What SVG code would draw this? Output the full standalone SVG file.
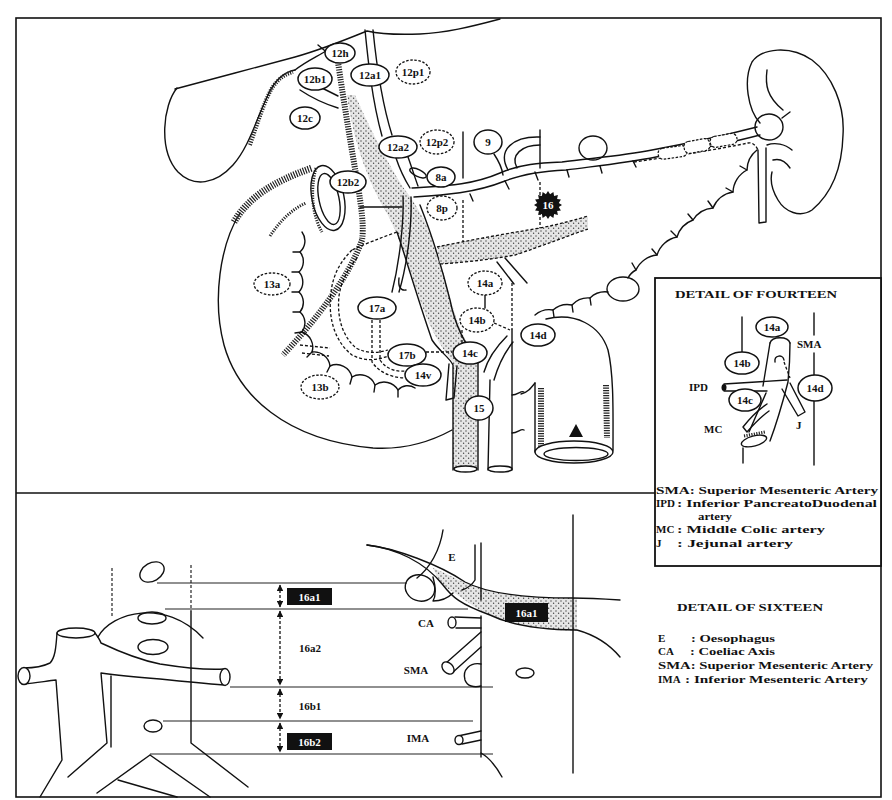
<svg xmlns="http://www.w3.org/2000/svg" width="892" height="800" viewBox="0 0 892 800">
<defs>
<style>
.k{fill:none;stroke:#111;stroke-width:1.4;stroke-linecap:round;stroke-linejoin:round}
.kt{fill:none;stroke:#222;stroke-width:1.1}
.d{fill:none;stroke:#111;stroke-width:1.3;stroke-dasharray:3 2}
.h{fill:none;stroke:#222;stroke-width:6;stroke-dasharray:1.2 1.3}
.st{fill:url(#stip);stroke:none}
.w{fill:#fff}
.n ellipse{fill:#fff;stroke:#111;stroke-width:1.5}
.nd ellipse{fill:#fff;stroke:#111;stroke-width:1.3;stroke-dasharray:2.5 1.6}
text{font-family:"Liberation Serif","Times New Roman",serif;font-weight:bold;fill:#111}
.lb{font-size:11px;text-anchor:middle}
.lg{font-size:11px}
.ti{font-size:11px}
.bx{fill:#111}
.wt{fill:#fff;font-size:11px;text-anchor:middle}
</style>
<pattern id="stip" width="5" height="5" patternUnits="userSpaceOnUse">
<rect width="5" height="5" fill="#e6e6e6"/>
<circle cx="1" cy="1" r="0.7" fill="#444"/>
<circle cx="3.6" cy="3.2" r="0.7" fill="#444"/>
</pattern>
<marker id="ah" viewBox="0 0 6 6" refX="5.5" refY="3" markerWidth="5" markerHeight="5" orient="auto-start-reverse">
<path d="M0,0 L6,3 L0,6 Z" fill="#111"/>
</marker>
</defs>
<rect width="892" height="800" fill="#fff"/>

<!-- frame -->
<g id="frame">
<rect x="16" y="18" width="865" height="779" fill="none" stroke="#111" stroke-width="1.6"/>
<path d="M16,493 L655,493" stroke="#111" stroke-width="1.6"/>
<rect x="655" y="278" width="226" height="288" fill="#fff" stroke="#111" stroke-width="1.8"/>
</g>

<!-- top panel anatomy -->
<g id="anatomy-top">
<path class="k" d="M175,89 C215,78 255,68 295,57 C320,50 345,40 367,31 C380,34 395,35 420,34 C445,33 470,27 500,19"/>
<path class="k" d="M177,88 C163,105 158,150 178,172 C194,188 216,184 233,165 C249,147 256,120 268,95 C275,80 283,72 295,70"/>
<path class="h" style="stroke-width:4" d="M250,145 C258,122 264,102 272,88 C278,79 285,74 293,72"/>
<path class="k" d="M295,70 C305,62 316,57 326,51"/>
<path class="k" d="M300,90 C312,98 325,104 338,108"/>
<path class="k" d="M318,45 L336,60"/>
<path class="k" d="M322,88 L338,96"/>
<!-- portal vein / SMV stipple -->
<path class="st" d="M347,95 C352,130 362,170 385,210 C392,222 400,240 410,270 C420,300 430,335 453,362 L453,470 L478,470 L478,360 C466,345 456,320 450,298 C442,265 433,240 425,222 C418,208 410,196 405,190 C395,175 375,140 355,95 Z"/>
<path class="k" d="M397,232 C405,255 418,300 432,340 C440,352 450,358 453,365 L453,470"/>
<path class="k" d="M420,205 C428,225 440,260 450,300 C455,325 465,345 478,360 L478,470"/>
<ellipse class="k w" cx="465.5" cy="469" rx="11.5" ry="3"/>
<!-- common bile duct -->
<path class="h" d="M338,62 C342,90 350,140 357,180 C362,210 364,228 362,240 C350,275 318,318 283,355"/>
<!-- hepatic artery -->
<path class="k" d="M365,30 C368,60 372,100 382,136"/>
<path class="k" d="M373,30 C376,60 381,100 392,135"/>
<path class="k" d="M396,158 C400,170 405,180 410,188"/>
<path class="k" d="M408,157 C412,168 415,178 418,186"/>
<!-- GDA -->
<path class="k" d="M403,196 C404,220 400,260 392,292"/>
<path class="k" d="M411,197 C412,222 408,262 399,292"/>
<path class="k" d="M399,278 C398,286 400,291 406,290"/>
<!-- splenic artery -->
<path class="k" d="M412,188 C440,186 470,186 500,173 C520,164 540,163 562,162 C592,158 622,156 652,150 C690,143 722,136 757,127"/>
<path class="k" d="M414,197 C445,195 475,193 505,181 C525,173 545,171 566,170 C596,166 626,163 656,157 C694,150 726,144 760,135"/>
<path class="k" d="M440,196 L441,203 M470,194 L473,201 M505,181 L509,189 M535,172 L538,180 M567,170 L569,177 M600,166 L602,173 M633,161 L636,167"/>
<path class="k" d="M508,170 C497,150 513,136 540,137"/>
<path class="k" d="M517,168 C510,155 522,145 540,145"/>
<path class="k" d="M494,154 C498,160 502,168 503,175"/>
<ellipse class="k" cx="418" cy="173" rx="9" ry="3.5" transform="rotate(25 418 173)"/>
<path class="k" d="M360,207 L402,207"/>
<!-- vertical reference lines -->
<path class="k" d="M463,132 L463,178"/>
<path class="d" d="M463,200 L463,245"/>
<path class="k" d="M540,130 L540,168"/>
<path class="d" d="M540,182 L540,230"/>
<!-- splenic vein -->
<path class="st" d="M437,247 C470,240 510,233 540,228 C560,224 575,220 588,216 L588,229 C570,235 545,245 515,255 C500,258 470,262 440,264 Z"/>
<path class="d" d="M437,247 C470,240 510,233 540,228 C560,224 575,220 588,216"/>
<path class="d" d="M440,264 C470,262 500,258 515,255 C545,245 570,235 588,229"/>
<path class="k" d="M505,258 L527,283"/>
<path class="k" d="M497,262 L514,284"/>
<path class="d" d="M397,232 C380,238 365,244 352,250"/>
<!-- pancreas lower border -->
<path class="k" d="M757,150 A26,26 0 0 0 747,170 A26,26 0 0 0 733,192 A26,26 0 0 0 713,208 A26,26 0 0 0 693,220 A26,26 0 0 0 677,237 A26,26 0 0 0 657,255 A26,26 0 0 0 636,270 A18,18 0 0 0 628,278"/>
<path class="k" d="M608,292 A22,22 0 0 0 590,298 A22,22 0 0 0 572,305 A22,22 0 0 0 553,310 A22,22 0 0 0 535,315"/>
<path class="k" d="M747,170 L740,166 M733,192 L726,188 M713,208 L708,201 M693,220 L688,214 M677,237 L671,231 M657,255 L652,249 M636,270 L632,263 M590,298 L591,305 M572,305 L573,312 M553,310 L554,317"/>
<ellipse class="k" cx="623" cy="289" rx="16" ry="12"/>
<ellipse class="k" cx="593" cy="148" rx="14" ry="12"/>
<!-- splenic hilum nodes and vein -->
<path class="d" d="M634,162 C670,157 720,149 748,143 C753,142 756,146 758,150"/>
<rect x="658" y="147" width="29" height="11" rx="5" fill="#fff" stroke="#111" stroke-width="1.2" stroke-dasharray="2.5 1.5" transform="rotate(-8 672 152)"/>
<rect x="684" y="140" width="26" height="12" rx="5" fill="#fff" stroke="#111" stroke-width="1.2" stroke-dasharray="2.5 1.5" transform="rotate(-10 697 146)"/>
<rect x="710" y="135" width="27" height="11" rx="5" fill="#fff" stroke="#111" stroke-width="1.2" stroke-dasharray="2.5 1.5" transform="rotate(-10 723 140)"/>
<!-- spleen -->
<path class="k" d="M760,123 C748,110 743,80 752,62 C762,48 790,45 812,60 C832,75 845,105 843,135 C842,170 830,195 812,210 C800,218 785,212 778,200 C772,190 770,180 772,172"/>
<path class="k" d="M767,70 C765,85 767,97 783,110"/>
<ellipse class="k" cx="769" cy="127" rx="14" ry="13"/>
<path class="k" d="M758,150 L759,223 M766,148 L766,222 M759,223 L766,222"/>
<path class="k" d="M767,145 C775,142 785,144 792,150 M773,160 C780,158 786,162 790,168 M782,118 L790,112"/>
<!-- duodenum -->
<path class="k" d="M240,213 C220,245 212,300 224,345 C238,395 285,440 373,448 C405,450 430,442 452,430"/>
<path class="h" style="stroke-width:7" d="M234,222 C248,198 272,182 312,168"/>
<path class="h" style="stroke-width:3" d="M270,236 C280,221 292,209 306,203"/>
<ellipse class="k" cx="328" cy="198" rx="16" ry="33" transform="rotate(-12 328 198)"/>
<ellipse class="k" cx="329" cy="199" rx="10" ry="26" transform="rotate(-12 329 199)"/>
<path class="h" style="stroke-width:3" d="M316,168 C310,190 312,215 322,232"/>
<path class="k" d="M302,232 A15,15 0 0 1 300,252 A15,15 0 0 1 299,272 A15,15 0 0 1 299,292 A15,15 0 0 1 300,312 A15,15 0 0 1 302,332 A16,16 0 0 1 312,352 A16,16 0 0 1 330,366 A16,16 0 0 1 352,377 A16,16 0 0 1 375,385 A16,16 0 0 1 398,390 A13,13 0 0 1 415,388"/>
<path class="k" d="M300,252 L293,252 M299,272 L292,272 M299,292 L292,292 M300,312 L293,312 M302,332 L295,333 M312,352 L307,357 M330,366 L327,372 M352,377 L350,384 M375,385 L374,392 M398,390 L398,397"/>
<!-- pancreaticoduodenal arcades -->
<path class="d" d="M352,250 C340,262 333,275 331,292 C328,315 333,340 352,355 C365,362 378,360 388,356"/>
<path class="d" d="M357,258 C347,270 341,282 339,296 C337,315 341,335 356,348 C368,354 378,353 388,350"/>
<path class="d" d="M372,320 L372,362 C380,374 395,378 405,378"/>
<path class="d" d="M380,320 L380,360 C386,369 396,372 405,371"/>
<path class="d" d="M426,352 L452,352"/>
<path class="d" d="M300,345 L330,348"/>
<path class="d" d="M302,353 L329,356"/>
<!-- SMA / aorta area -->
<path class="d" d="M512,283 L512,330"/>
<path class="k" d="M512,330 L512,470"/>
<path class="k" d="M512,395 C518,395 521,390 524,392 M512,433 C518,433 521,428 524,430"/>
<path class="k" d="M490,380 L488,470"/>
<ellipse class="k w" cx="500" cy="469" rx="12" ry="3"/>
<path class="k" d="M484,372 C488,358 498,345 507,336"/>
<path class="k" d="M494,380 C498,366 505,352 513,342"/>
<path class="k" d="M449,364 L446,400 M457,366 L454,398 M446,400 L454,398"/>
<path class="d" d="M494,323 L510,330"/>
<path class="d" d="M462,330 L462,345"/>
<!-- jejunum -->
<path class="h" d="M541,388 L541,447"/>
<path class="h" d="M606,385 L607,438"/>
<path class="k" d="M546,319 C575,312 600,325 608,350 C614,375 613,415 613,450"/>
<path class="k" d="M535,383 L535,452"/>
<path class="k" d="M521,394 C527,393 531,388 535,383"/>
<ellipse class="k w" cx="574" cy="452" rx="39" ry="11"/>
<ellipse class="k" cx="576" cy="454" rx="32" ry="6.5"/>
<path d="M569,437 L576,424 L583,437 Z" fill="#111"/>
</g>

<!-- connectors -->
<g id="connectors">
<path class="k" d="M485,295 L485,308"/>
<path class="d" d="M280,585 L280,607" marker-start="url(#ah)" marker-end="url(#ah)"/>
<path class="d" d="M280,611 L280,685" marker-start="url(#ah)" marker-end="url(#ah)"/>
<path class="d" d="M280,689 L280,719" marker-start="url(#ah)" marker-end="url(#ah)"/>
<path class="d" d="M280,723 L280,752" marker-start="url(#ah)" marker-end="url(#ah)"/>
</g>

<!-- top panel nodes -->
<g id="n12h" class="n"><ellipse cx="340" cy="53" rx="15" ry="10"/><text class="lb" x="340" y="57">12h</text></g>
<g id="n12b1" class="n"><ellipse cx="315" cy="79" rx="17" ry="11"/><text class="lb" x="315" y="83">12b1</text></g>
<g id="n12a1" class="n"><ellipse cx="370" cy="75" rx="19" ry="11"/><text class="lb" x="370" y="79">12a1</text></g>
<g id="n12p1" class="nd"><ellipse cx="413" cy="72" rx="17" ry="12"/><text class="lb" x="413" y="76">12p1</text></g>
<g id="n12c" class="n"><ellipse cx="305" cy="118" rx="15" ry="11"/><text class="lb" x="305" y="122">12c</text></g>
<g id="n12a2" class="n"><ellipse cx="398" cy="147" rx="19" ry="11"/><text class="lb" x="398" y="151">12a2</text></g>
<g id="n12p2" class="nd"><ellipse cx="437" cy="142" rx="17" ry="12"/><text class="lb" x="437" y="146">12p2</text></g>
<g id="n9" class="n"><ellipse cx="488" cy="142" rx="14" ry="12"/><text class="lb" x="488" y="146">9</text></g>
<g id="n8a" class="n"><ellipse cx="441" cy="177" rx="14" ry="10"/><text class="lb" x="441" y="181">8a</text></g>
<g id="n8p" class="nd"><ellipse cx="442" cy="208" rx="15" ry="12"/><text class="lb" x="442" y="212">8p</text></g>
<g id="n12b2" class="n"><ellipse cx="348" cy="182" rx="18" ry="11"/><text class="lb" x="348" y="186">12b2</text></g>
<g id="n16"><polygon fill="#111" points="562,205 558.8,207.1 560.9,210.4 557.1,211.1 557.9,214.9 554.1,214.1 553.4,217.9 550.1,215.8 548,219 545.9,215.8 542.6,217.9 541.9,214.1 538.1,214.9 538.9,211.1 535.1,210.4 537.2,207.1 534,205 537.2,202.9 535.1,199.6 538.9,198.9 538.1,195.1 541.9,195.9 542.6,192.1 545.9,194.2 548,191 550.1,194.2 553.4,192.1 554.1,195.9 557.9,195.1 557.1,198.9 560.9,199.6 558.8,202.9"/><text class="wt" x="548" y="209">16</text></g>
<g id="n13a" class="nd"><ellipse cx="272" cy="284" rx="18" ry="11"/><text class="lb" x="272" y="288">13a</text></g>
<g id="n17a" class="n"><ellipse cx="377" cy="308" rx="19" ry="11"/><text class="lb" x="377" y="312">17a</text></g>
<g id="n14a" class="nd"><ellipse cx="485" cy="283" rx="17" ry="12"/><text class="lb" x="485" y="287">14a</text></g>
<g id="n14b" class="nd"><ellipse cx="477" cy="320" rx="17" ry="12"/><text class="lb" x="477" y="324">14b</text></g>
<g id="n14d" class="n"><ellipse cx="538" cy="335" rx="17" ry="11"/><text class="lb" x="538" y="339">14d</text></g>
<g id="n17b" class="n"><ellipse cx="407" cy="355" rx="19" ry="11"/><text class="lb" x="407" y="359">17b</text></g>
<g id="n14c" class="n"><ellipse cx="470" cy="353" rx="17" ry="11"/><text class="lb" x="470" y="357">14c</text></g>
<g id="n14v" class="n"><ellipse cx="423" cy="375" rx="18" ry="11"/><text class="lb" x="423" y="379">14v</text></g>
<g id="n13b" class="nd"><ellipse cx="320" cy="387" rx="19" ry="12"/><text class="lb" x="320" y="391">13b</text></g>
<g id="n15" class="n"><ellipse cx="479" cy="408" rx="14" ry="12"/><text class="lb" x="479" y="412">15</text></g>

<!-- detail of fourteen -->
<g id="detail14">
<text class="ti" x="675" y="298" textLength="162" lengthAdjust="spacingAndGlyphs">DETAIL OF FOURTEEN</text>
<path class="k" d="M742,317 L742,352 M743,448 L743,463"/>
<path class="k" d="M814,313 L814,335 M814,353 L814,375 M814,401 L814,465"/>
<path class="k" d="M770,343 L763,386 M766,393 L749,432"/>
<path class="k" d="M790,343 C790,360 789,372 788,382 C782,405 776,425 770,441"/>
<path class="k" d="M770,343 C772,336 788,336 790,343"/>
<path class="k" d="M775,362 C774,355 783,354 784,360"/>
<path class="d" d="M784,362 L790,378"/>
<path class="k" d="M787,380 L724,384 M767,391 L724,391"/>
<ellipse cx="724" cy="387.5" rx="2.5" ry="3.5" fill="#111"/>
<path class="k" d="M782,389 L798,416 M790,383 L805,412 M798,416 L805,412"/>
<path class="k" d="M743,427 C750,418 758,410 767,404 M747,432 C754,424 762,416 769,411 M743,427 L747,432"/>
<ellipse class="k w" cx="754" cy="441" rx="13" ry="5" transform="rotate(-15 754 441)"/>
<path class="h" style="stroke-width:3" d="M744,436 L765,432"/>
<g id="d14a" class="n"><ellipse cx="772" cy="327" rx="16" ry="10"/><text class="lb" x="772" y="331">14a</text></g>
<g id="d14b" class="n"><ellipse cx="742" cy="363" rx="17" ry="11"/><text class="lb" x="742" y="367">14b</text></g>
<g id="d14c" class="n"><ellipse cx="745" cy="400" rx="16" ry="11"/><text class="lb" x="745" y="404">14c</text></g>
<g id="d14d" class="n"><ellipse cx="815" cy="388" rx="17" ry="13"/><text class="lb" x="815" y="392">14d</text></g>
<text class="ti" x="797" y="348">SMA</text>
<text class="ti" x="689" y="391">IPD</text>
<text class="ti" x="704" y="433">MC</text>
<text class="ti" x="796" y="429">J</text>
<text class="lg" x="656" y="494" textLength="222" lengthAdjust="spacingAndGlyphs">SMA: Superior Mesenteric Artery</text>
<text class="lg" x="656" y="507">IPD</text>
<text class="lg" x="677" y="507" textLength="200" lengthAdjust="spacingAndGlyphs">: Inferior PancreatoDuodenal</text>
<text class="lg" x="698" y="520" textLength="34" lengthAdjust="spacingAndGlyphs">artery</text>
<text class="lg" x="656" y="533">MC</text>
<text class="lg" x="677" y="533" textLength="148" lengthAdjust="spacingAndGlyphs">: Middle Colic artery</text>
<text class="lg" x="656" y="547">J</text>
<text class="lg" x="677" y="547" textLength="116" lengthAdjust="spacingAndGlyphs">: Jejunal artery</text>
</g>

<!-- bottom panel -->
<g id="anatomy-bottom">
<path class="kt" d="M157,583 L407,583"/>
<path class="kt" d="M165,609 L468,609"/>
<path class="kt" d="M230,687 L493,687"/>
<path class="kt" d="M163,721 L473,721"/>
<path class="kt" d="M150,754 L493,754"/>
<path class="d" style="stroke-width:1.1" d="M112,568 L112,617"/>
<path class="d" style="stroke-width:1.1" d="M191,565 L191,612"/>
<path class="k" d="M191,612 L191,743 L248,787"/>
<ellipse class="k" cx="152" cy="572" rx="13" ry="9" transform="rotate(-30 152 572)"/>
<path class="k" d="M98,637 C112,612 165,598 203,638"/>
<ellipse class="k" cx="152" cy="618" rx="14" ry="6"/>
<ellipse class="k" cx="153" cy="647" rx="15" ry="7.5"/>
<ellipse class="k" cx="153" cy="726" rx="9" ry="6"/>
<ellipse class="k" cx="76" cy="633" rx="19" ry="5"/>
<path class="k" d="M57,633 C56,648 55,658 50,663 C42,667 32,668 24,668"/>
<path class="k" d="M24,684 C35,683 47,681 56,680 L62,760 L40,797"/>
<ellipse class="k w" cx="24" cy="676" rx="6" ry="8.5"/>
<path class="k" d="M95,633 C98,637 100,640 101,643 C120,652 140,660 160,664 C185,668 205,670 224,669"/>
<path class="k" d="M224,685 C200,683 180,681 160,679 C135,677 115,675 101,673 L107,743 L68,777"/>
<path class="k" d="M111,676 L111,747"/>
<ellipse class="k w" cx="225" cy="677" rx="5" ry="8.5"/>
<path class="k" d="M150,755 L97,793 M150,755 L210,797 M118,780 L177,797"/>
<!-- right side of bottom panel -->
<path class="k" d="M443,530 C440,550 430,568 417,578"/>
<path class="st" d="M433,568 C445,573 455,578 465,583 C490,595 530,598 577,598 L577,631 C550,630 515,627 490,615 C470,606 460,595 445,587 C440,582 436,575 433,568 Z"/>
<path class="k" d="M367,545 C395,548 440,565 465,582 C490,595 530,598 573,598 C590,598 605,599 620,600"/>
<path class="k" d="M367,545 C395,548 425,562 443,585 C452,597 460,604 490,615 C515,627 550,630 577,630 C595,635 610,645 620,657"/>
<ellipse class="k" cx="420" cy="588" rx="15" ry="13" transform="rotate(20 420 588)"/>
<path class="k" d="M433,577 C436,588 436,596 433,601 C442,601 448,598 453,593"/>
<path class="k" d="M475,545 L475,580 C472,585 468,588 462,590"/>
<path class="k" d="M481,543 L481,600"/>
<path class="k" d="M481,616 L481,757"/>
<path class="k" d="M481,618 L455,617 M481,628 L456,628"/>
<ellipse class="k w" cx="452" cy="622.5" rx="4" ry="5.5"/>
<path class="k" d="M481,632 L446,663 M481,647 L452,673"/>
<ellipse class="k w" cx="448" cy="668" rx="5" ry="7" transform="rotate(-45 448 668)"/>
<path class="k" d="M481,664 C470,662 462,670 465,680 C467,686 474,688 481,686"/>
<path class="k" d="M481,731 L458,736 M481,740 L462,744"/>
<ellipse class="k w" cx="459" cy="740" rx="4" ry="4.5"/>
<path class="k" d="M481,753 C490,758 497,768 502,777"/>
<path class="k" d="M573,515 L573,773"/>
<ellipse class="k" cx="525" cy="673" rx="9" ry="5"/>
</g>

<!-- bottom panel labels -->
<g id="b16a1"><rect class="bx" x="287" y="588" width="45" height="17"/><text class="wt" x="309.5" y="600.5">16a1</text></g>
<g id="b16a2"><text class="lb" x="310" y="652">16a2</text></g>
<g id="b16b1"><text class="lb" x="310" y="710">16b1</text></g>
<g id="b16b2"><rect class="bx" x="287" y="733" width="45" height="17"/><text class="wt" x="309.5" y="745.5">16b2</text></g>
<g id="b16a1r"><rect class="bx" x="505" y="603" width="43" height="19"/><text class="wt" x="526.5" y="616.5">16a1</text></g>
<text class="lb" x="452" y="561">E</text>
<text class="lb" x="426" y="627">CA</text>
<text class="lb" x="416" y="674">SMA</text>
<text class="lb" x="418" y="742">IMA</text>

<!-- detail of sixteen legend -->
<g id="detail16">
<text class="ti" x="677" y="611" textLength="146" lengthAdjust="spacingAndGlyphs">DETAIL OF SIXTEEN</text>
<text class="ti" x="658" y="642">E</text>
<text class="ti" x="691" y="642" textLength="84" lengthAdjust="spacingAndGlyphs">: Oesophagus</text>
<text class="ti" x="658" y="655">CA</text>
<text class="ti" x="690" y="655" textLength="85" lengthAdjust="spacingAndGlyphs">: Coeliac Axis</text>
<text class="ti" x="658" y="669" textLength="215" lengthAdjust="spacingAndGlyphs">SMA: Superior Mesenteric Artery</text>
<text class="ti" x="658" y="683">IMA</text>
<text class="ti" x="685" y="683" textLength="183" lengthAdjust="spacingAndGlyphs">: Inferior Mesenteric Artery</text>
</g>
</svg>
